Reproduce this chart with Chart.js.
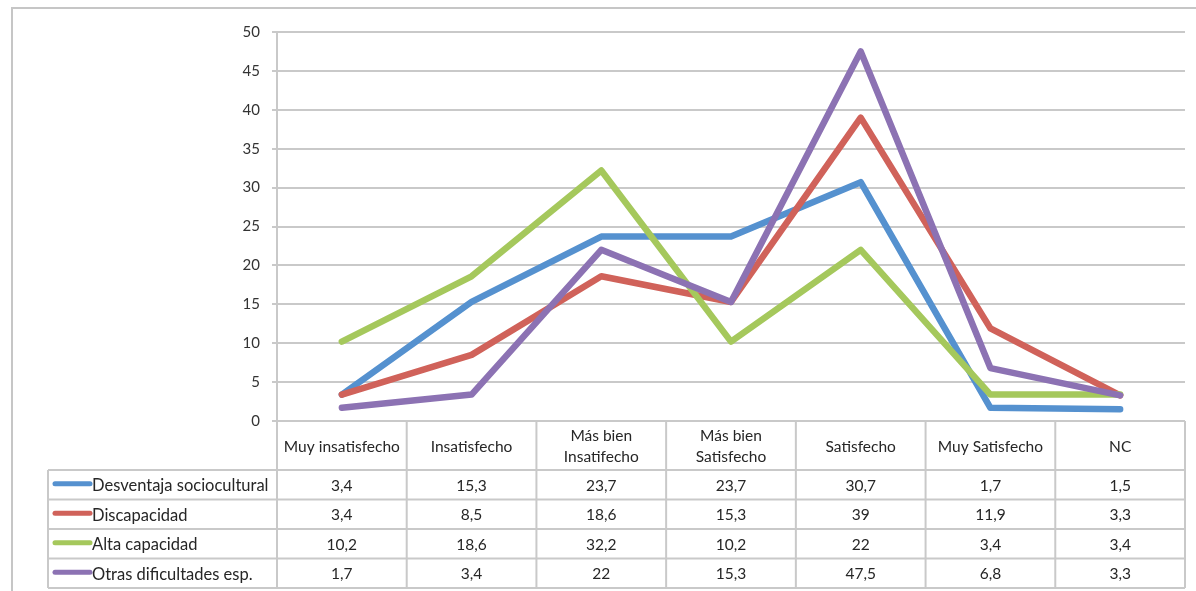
<!DOCTYPE html>
<html>
<head>
<meta charset="utf-8">
<script src="https://cdn.jsdelivr.net/npm/chart.js@4"></script>
<style>
  html, body { margin: 0; padding: 0; background: #ffffff; }
  #wrap { width: 1196px; height: 591px; position: relative; }
</style>
</head>
<body>
<div id="wrap"><canvas id="c" width="1196" height="591"></canvas></div>
<script>
// Satisfaction categories (header row of the table)
const categories = [
  ['Muy insatisfecho'],
  ['Insatisfecho'],
  ['Más bien', 'Insatifecho'],
  ['Más bien', 'Satisfecho'],
  ['Satisfecho'],
  ['Muy Satisfecho'],
  ['NC']
];

// Series names
const seriesNames = [
  'Desventaja sociocultural',
  'Discapacidad',
  'Alta capacidad',
  'Otras dificultades esp.'
];

// Percentages per series
const desventaja = [3.4, 15.3, 23.7, 23.7, 30.7, 1.7, 1.5];
const discapacidad = [3.4, 8.5, 18.6, 15.3, 39, 11.9, 3.3];
const altaCapacidad = [10.2, 18.6, 32.2, 10.2, 22, 3.4, 3.4];
const otrasDificultades = [1.7, 3.4, 22, 15.3, 47.5, 6.8, 3.3];

// Y axis range
const yMin = 0;
const yMax = 50;
const yStep = 5;

const seriesValues = [desventaja, discapacidad, altaCapacidad, otrasDificultades];
const seriesColors = ['#5591cf', '#d0625a', '#a5c85c', '#8c72b3'];

const FONT = 'Lato, "Open Sans", sans-serif';
const TEXT = '#262626';
const RULE = '#c9c9c9';

const fmt = v => String(v).replace('.', ',');

// Frame and data table under the plot, laid out on the x scale columns
const tablePlugin = {
  id: 'dataTable',
  beforeDraw(chart) {
    const ctx = chart.ctx;
    ctx.save();
    ctx.fillStyle = '#ffffff';
    ctx.fillRect(0, 0, chart.width, chart.height);
    ctx.strokeStyle = '#c6c6c6';
    ctx.lineWidth = 2;
    ctx.beginPath();
    ctx.moveTo(12, chart.height);
    ctx.lineTo(12, 8);
    ctx.lineTo(chart.width, 8);
    ctx.stroke();
    ctx.restore();
  },
  afterDraw(chart) {
    const ctx = chart.ctx;
    const a = chart.chartArea;
    const xs = chart.scales.x;
    const n = categories.length;
    const colW = (a.right - a.left) / n;
    const headTop = a.bottom;
    const headBottom = a.bottom + 49;
    const rowH = 29.5;
    const tableBottom = headBottom + rowH * seriesNames.length;
    const legendLeft = 48;

    ctx.save();
    ctx.strokeStyle = RULE;
    ctx.lineWidth = 2;
    ctx.beginPath();
    // horizontal rules
    for (let r = 0; r <= seriesNames.length; r++) {
      const y = headBottom + r * rowH;
      ctx.moveTo(legendLeft, y);
      ctx.lineTo(a.right, y);
    }
    // column boundaries
    for (let i = 0; i <= n; i++) {
      const x = xs.getPixelForValue(0) - colW / 2 + i * colW;
      ctx.moveTo(x, headTop);
      ctx.lineTo(x, tableBottom);
    }
    ctx.moveTo(legendLeft, headBottom);
    ctx.lineTo(legendLeft, tableBottom);
    ctx.stroke();

    // header labels
    ctx.fillStyle = TEXT;
    ctx.font = '15.5px ' + FONT;
    ctx.textAlign = 'center';
    ctx.textBaseline = 'middle';
    categories.forEach((lines, i) => {
      const cx = xs.getPixelForValue(i);
      const cy = (headTop + headBottom) / 2 + 1;
      const lh = 21;
      lines.forEach((t, k) => {
        ctx.fillText(t, cx, cy + (k - (lines.length - 1) / 2) * lh);
      });
    });

    // data rows
    seriesNames.forEach((name, r) => {
      const cy = headBottom + r * rowH + rowH / 2;
      // legend key
      ctx.strokeStyle = seriesColors[r];
      ctx.lineWidth = 5;
      ctx.lineCap = 'round';
      ctx.beginPath();
      ctx.moveTo(55, cy - 1);
      ctx.lineTo(90, cy - 1);
      ctx.stroke();
      ctx.fillStyle = TEXT;
      ctx.textAlign = 'left';
      ctx.font = '16.5px ' + FONT;
      ctx.fillText(name, 92, cy + 1);
      ctx.textAlign = 'center';
      ctx.font = '15.5px ' + FONT;
      seriesValues[r].forEach((v, i) => {
        ctx.fillText(fmt(v), xs.getPixelForValue(i), cy + 1);
      });
    });
    ctx.restore();
  }
};

new Chart(document.getElementById('c'), {
  type: 'line',
  data: {
    labels: categories,
    datasets: seriesNames.map((name, i) => ({
      label: name,
      data: seriesValues[i],
      borderColor: seriesColors[i],
      backgroundColor: seriesColors[i],
      borderWidth: 6.5,
      borderCapStyle: 'round',
      borderJoinStyle: 'round',
      pointRadius: 0,
      tension: 0,
      fill: false,
      order: seriesNames.length - i
    }))
  },
  options: {
    responsive: false,
    animation: false,
    layout: { padding: { top: 32, right: 11, bottom: 170, left: 0 } },
    plugins: { legend: { display: false }, tooltip: { enabled: false } },
    scales: {
      x: { display: false, offset: true },
      y: {
        min: yMin,
        max: yMax,
        ticks: {
          stepSize: yStep,
          padding: 12,
          color: '#333333',
          font: { family: FONT, size: 15 }
        },
        grid: {
          color: RULE,
          lineWidth: 2,
          drawTicks: true,
          tickLength: 5,
          tickColor: RULE
        },
        border: { color: RULE, width: 2 },
        afterFit(scale) { scale.width = 277; }
      }
    }
  },
  plugins: [tablePlugin]
});
</script>
</body>
</html>
